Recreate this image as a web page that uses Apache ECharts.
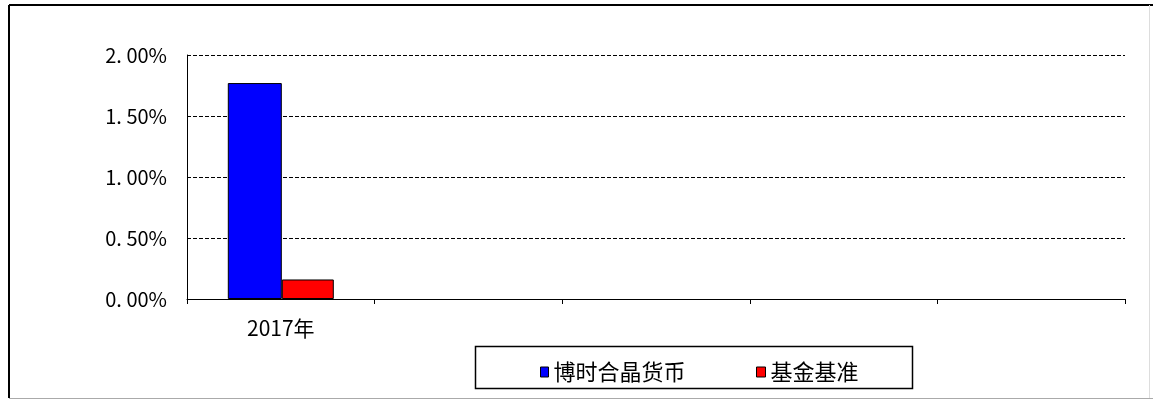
<!DOCTYPE html>
<html><head><meta charset="utf-8">
<script src="https://cdn.jsdelivr.net/npm/echarts@6/dist/echarts.min.js"></script>
<style>html,body{margin:0;padding:0;background:#fff}#c{width:1153px;height:401px}</style>
</head><body><div id="c"></div>
<script>
const categories = ['2017年', '', '', '', ''];
const fundValues = [1.77, null, null, null, null];
const benchValues = [0.16, null, null, null, null];
const seriesNames = ['博时合晶货币', '基金基准'];
const yTicks = ['0. 00%', '0. 50%', '1. 00%', '1. 50%', '2. 00%'];

const chart = echarts.init(document.getElementById('c'));
const font = '"Noto Sans CJK SC", sans-serif';
const legendText = {fontFamily: font, fontSize: 22, color: '#000', lineHeight: 22};
chart.setOption({
  animation: false,
  grid: {left: 187, right: 28, top: 55, bottom: 102},
  graphic: [
    {type: 'line', shape: {x1: 9, y1: 5, x2: 1153, y2: 5}, style: {stroke: '#000', lineWidth: 2}},
    {type: 'line', shape: {x1: 9, y1: 5, x2: 9, y2: 398}, style: {stroke: '#000', lineWidth: 2}},
    {type: 'line', shape: {x1: 9, y1: 398.5, x2: 1153, y2: 398.5}, style: {stroke: '#aaa', lineWidth: 1}},
    {type: 'line', shape: {x1: 1149.5, y1: 5, x2: 1149.5, y2: 398}, style: {stroke: '#ddd', lineWidth: 1}},
    {type: 'rect', shape: {x: 475.5, y: 346.5, width: 437, height: 42}, style: {fill: 'none', stroke: '#000', lineWidth: 1.5}}
  ],
  legend: [
    {left: 535, top: 356, itemWidth: 8, itemHeight: 10, icon: 'rect',
      textStyle: legendText,
      data: [{name: seriesNames[0], itemStyle: {borderColor: '#000', borderWidth: 1}}]},
    {left: 751, top: 356, itemWidth: 9, itemHeight: 10, icon: 'rect',
      textStyle: legendText,
      data: [{name: seriesNames[1], itemStyle: {borderColor: '#000', borderWidth: 1}}]}
  ],
  xAxis: {
    type: 'category', data: categories,
    axisLine: {lineStyle: {color: '#000', width: 1}},
    axisTick: {show: true, length: 5, lineStyle: {color: '#000'}},
    axisLabel: {color: '#000', fontFamily: font, fontSize: 21, margin: 19}
  },
  yAxis: {
    type: 'value', min: 0, max: 2, interval: 0.5,
    axisLine: {show: true, lineStyle: {color: '#000'}},
    axisTick: {show: false},
    splitLine: {lineStyle: {color: '#000', type: [4, 2], width: 1}},
    axisLabel: {color: '#000', fontFamily: font, fontSize: 20, margin: 20,
      formatter: (v, i) => yTicks[i]}
  },
  series: [
    {name: seriesNames[0], type: 'bar', data: fundValues, barWidth: 54, barGap: '0%',
      itemStyle: {color: '#0000ff', borderColor: '#000', borderWidth: 1}},
    {name: seriesNames[1], type: 'bar', data: benchValues, barWidth: 52, barGap: '0%',
      itemStyle: {color: '#ff0000', borderColor: '#000', borderWidth: 1}}
  ]
});
</script></body></html>
